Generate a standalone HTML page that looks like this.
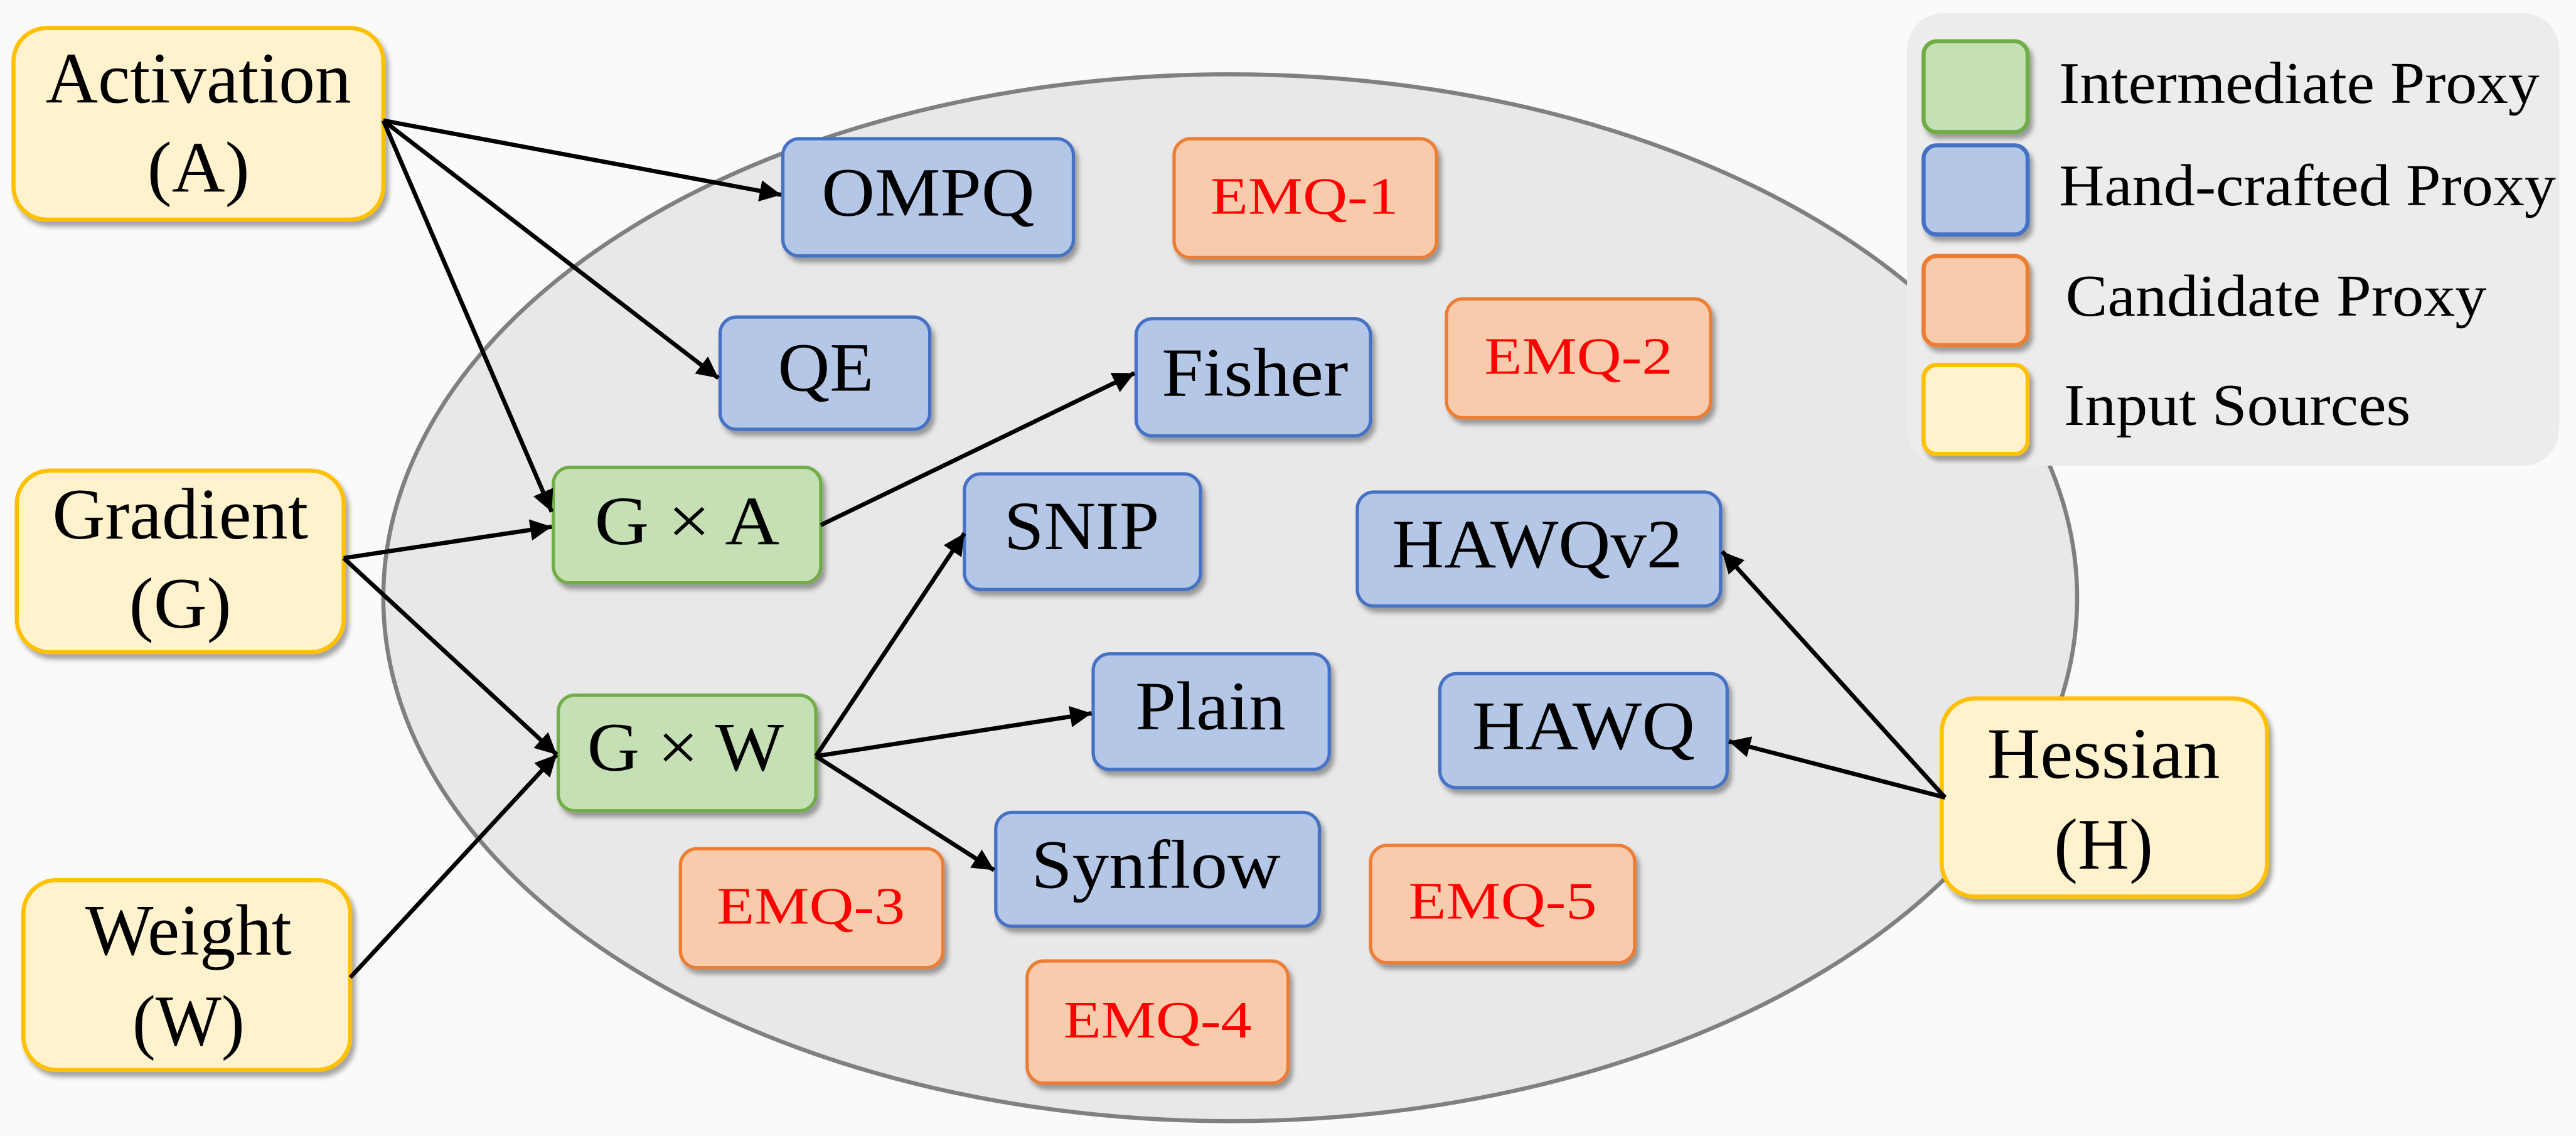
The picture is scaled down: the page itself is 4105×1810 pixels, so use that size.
<!DOCTYPE html>
<html><head><meta charset="utf-8"><style>
html,body{margin:0;padding:0;background:#fafafa;}
svg{display:block;}
text{font-family:"Liberation Serif",serif;}
</style></head><body>
<svg width="4105" height="1810" viewBox="0 0 1560 688" xmlns="http://www.w3.org/2000/svg">
<defs>
<filter id="sh" x="-10%" y="-10%" width="130%" height="140%">
<feDropShadow dx="2" dy="3" stdDeviation="1.5" flood-color="#000" flood-opacity="0.35"/>
</filter>
<marker id="ar" viewBox="0 0 10 10" refX="10" refY="5" markerWidth="5" markerHeight="5" orient="auto-start-reverse">
<path d="M0,0 L10,5 L0,10 z" fill="#000"/>
</marker>
</defs>
<rect width="1560" height="688" fill="#fafafa"/>
<ellipse cx="745" cy="362" rx="513" ry="317" fill="#e8e8e8" stroke="#808080" stroke-width="2.5"/>
<!-- legend -->
<rect x="1155" y="8" width="395" height="274" rx="22" fill="#ececec"/>
<g filter="url(#sh)" stroke-width="2.5">
<rect x="1165" y="25" width="63" height="55" rx="8" fill="#c5e0b4" stroke="#70ad47"/>
<rect x="1165" y="88" width="63" height="54" rx="8" fill="#b4c7e7" stroke="#4472c4"/>
<rect x="1165" y="155" width="63" height="54" rx="8" fill="#f8cbad" stroke="#ed7d31"/>
<rect x="1165" y="221" width="63" height="54" rx="8" fill="#fff2cc" stroke="#ffc000"/>
</g>
<g font-size="36" fill="#000" lengthAdjust="spacingAndGlyphs">
<text x="1247" y="54" dominant-baseline="middle" textLength="291" lengthAdjust="spacingAndGlyphs">Intermediate Proxy</text>
<text x="1247" y="116" dominant-baseline="middle" textLength="301" lengthAdjust="spacingAndGlyphs">Hand-crafted Proxy</text>
<text x="1251" y="183" dominant-baseline="middle" textLength="255" lengthAdjust="spacingAndGlyphs">Candidate Proxy</text>
<text x="1250" y="249" dominant-baseline="middle" textLength="210" lengthAdjust="spacingAndGlyphs">Input Sources</text>
</g>
<!-- input boxes -->
<g filter="url(#sh)" fill="#fff2cc" stroke="#ffc000" stroke-width="2.5">
<rect x="8" y="17" width="224" height="116" rx="20"/>
<rect x="10" y="285" width="198" height="110" rx="20"/>
<rect x="14" y="533" width="198" height="115" rx="20"/>
<rect x="1176" y="423" width="197" height="120" rx="20"/>
</g>
<g font-size="44" fill="#000" text-anchor="middle" dominant-baseline="middle">
<text x="120" y="52" textLength="185" lengthAdjust="spacingAndGlyphs">Activation</text><text x="120" y="106" textLength="62" lengthAdjust="spacingAndGlyphs">(A)</text>
<text x="109" y="316" textLength="155" lengthAdjust="spacingAndGlyphs">Gradient</text><text x="109" y="370" textLength="62" lengthAdjust="spacingAndGlyphs">(G)</text>
<text x="114" y="568" textLength="125" lengthAdjust="spacingAndGlyphs">Weight</text><text x="114" y="623" textLength="68" lengthAdjust="spacingAndGlyphs">(W)</text>
<text x="1274" y="461" textLength="141" lengthAdjust="spacingAndGlyphs">Hessian</text><text x="1274" y="516" textLength="60" lengthAdjust="spacingAndGlyphs">(H)</text>
</g>
<!-- blue -->
<g filter="url(#sh)" fill="#b4c7e7" stroke="#4472c4" stroke-width="2">
<rect x="474" y="84" width="176" height="71" rx="10"/>
<rect x="436" y="192" width="127" height="68" rx="10"/>
<rect x="688" y="193" width="142" height="71" rx="10"/>
<rect x="584" y="287" width="143" height="70" rx="10"/>
<rect x="822" y="298" width="220" height="69" rx="10"/>
<rect x="662" y="396" width="143" height="70" rx="10"/>
<rect x="872" y="408" width="174" height="69" rx="10"/>
<rect x="603" y="492" width="196" height="69" rx="10"/>
</g>
<!-- green -->
<g filter="url(#sh)" fill="#c5e0b4" stroke="#70ad47" stroke-width="2">
<rect x="335" y="283" width="162" height="70" rx="10"/>
<rect x="338" y="421" width="156" height="70" rx="10"/>
</g>
<!-- orange -->
<g filter="url(#sh)" fill="#f8cbad" stroke="#ed7d31" stroke-width="2">
<rect x="711" y="84" width="159" height="72" rx="10"/>
<rect x="876" y="181" width="160" height="72" rx="10"/>
<rect x="412" y="514" width="159" height="72" rx="10"/>
<rect x="830" y="512" width="160" height="71" rx="10"/>
<rect x="622" y="582" width="158" height="74" rx="10"/>
</g>
<g font-size="42" fill="#000" text-anchor="middle" dominant-baseline="middle">
<text x="562" y="121" textLength="129" lengthAdjust="spacingAndGlyphs">OMPQ</text>
<text x="500" y="227" textLength="58" lengthAdjust="spacingAndGlyphs">QE</text>
<text x="760" y="230" textLength="113" lengthAdjust="spacingAndGlyphs">Fisher</text>
<text x="655" y="323" textLength="94" lengthAdjust="spacingAndGlyphs">SNIP</text>
<text x="931" y="334" textLength="176" lengthAdjust="spacingAndGlyphs">HAWQv2</text>
<text x="733" y="432" textLength="91" lengthAdjust="spacingAndGlyphs">Plain</text>
<text x="959" y="444" textLength="135" lengthAdjust="spacingAndGlyphs">HAWQ</text>
<text x="700" y="528" textLength="151" lengthAdjust="spacingAndGlyphs">Synflow</text>
<text x="416" y="320" textLength="112" lengthAdjust="spacingAndGlyphs">G × A</text>
<text x="415" y="457" textLength="119" lengthAdjust="spacingAndGlyphs">G × W</text>
</g>
<g font-size="32" fill="#ff0000" text-anchor="middle" dominant-baseline="middle">
<text x="790" y="122" textLength="114" lengthAdjust="spacingAndGlyphs">EMQ-1</text>
<text x="956" y="219" textLength="114" lengthAdjust="spacingAndGlyphs">EMQ-2</text>
<text x="491" y="552" textLength="114" lengthAdjust="spacingAndGlyphs">EMQ-3</text>
<text x="910" y="549" textLength="114" lengthAdjust="spacingAndGlyphs">EMQ-5</text>
<text x="701" y="621" textLength="114" lengthAdjust="spacingAndGlyphs">EMQ-4</text>
</g>
<!-- arrows -->
<g stroke="#000" stroke-width="2.6" fill="none" marker-end="url(#ar)">
<line x1="232" y1="73" x2="473" y2="118"/>
<line x1="232" y1="73" x2="435" y2="229"/>
<line x1="232" y1="73" x2="334" y2="310"/>
<line x1="208" y1="338" x2="334" y2="319"/>
<line x1="208" y1="338" x2="337" y2="457"/>
<line x1="212" y1="592" x2="337" y2="457"/>
<line x1="497" y1="318" x2="687" y2="226"/>
<line x1="494" y1="458" x2="584" y2="323"/>
<line x1="494" y1="458" x2="661" y2="432"/>
<line x1="494" y1="458" x2="602" y2="527"/>
<line x1="1178" y1="483" x2="1043" y2="334"/>
<line x1="1178" y1="483" x2="1047" y2="449"/>
</g>
</svg>
</body></html>
